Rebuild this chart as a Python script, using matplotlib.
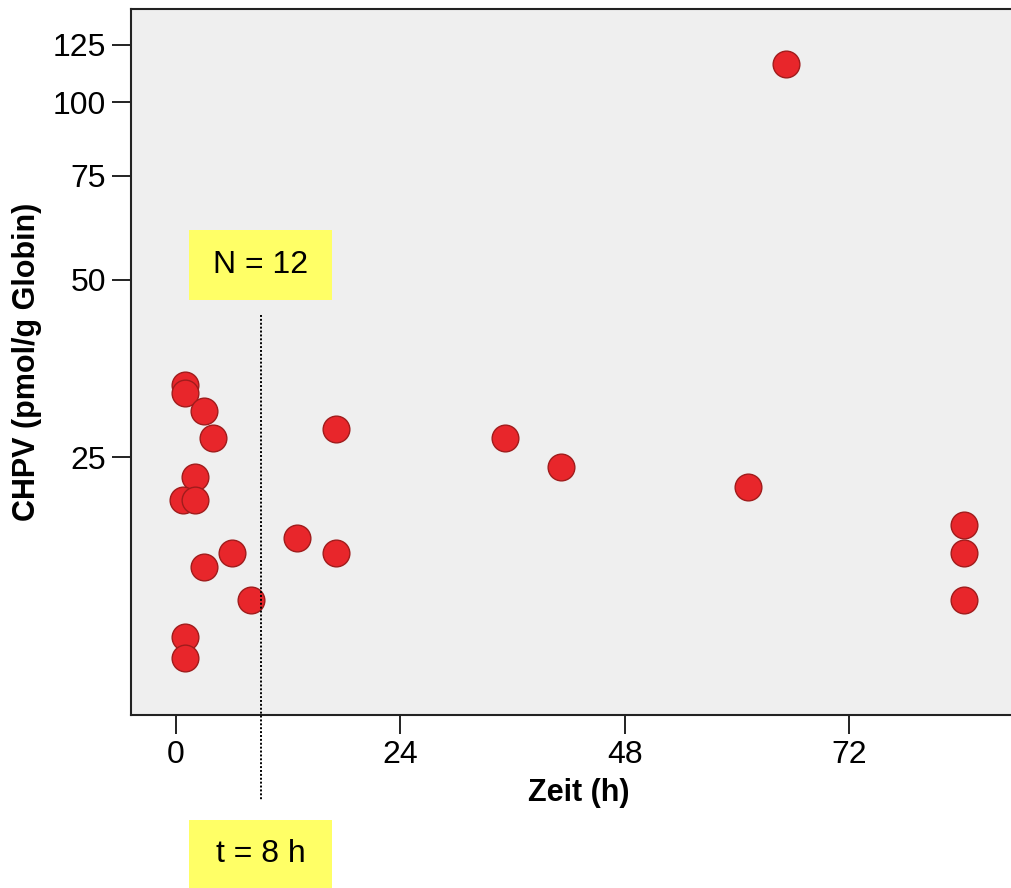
import matplotlib
matplotlib.use("Agg")
import matplotlib.pyplot as plt
import matplotlib.transforms as mtransforms
from matplotlib.patches import Rectangle

# data (time in h, CHPV in pmol/g globin)
zeit = [1.0, 1.0, 3.0, 4.0, 2.0, 0.8, 2.0, 6.0, 3.0, 8.0, 1.0, 1.0,
        17.1, 13.0, 17.1, 35.2, 41.2, 61.2, 65.2, 84.3, 84.3, 84.3]
chpv = [33.1, 32.1, 29.9, 26.9, 23.1, 21.1, 21.1, 17.2, 16.3, 14.3, 12.4, 11.4,
        27.9, 18.2, 17.2, 26.9, 24.0, 22.2, 116.0, 19.2, 17.2, 14.3]
y_ticks = [25, 50, 75, 100, 125]
x_ticks = [0, 24, 48, 72]
cutoff_h = 9.05
label_n = "N = 12"
label_t = "t = 8 h"

plt.rcParams['font.family'] = ['Liberation Sans', 'DejaVu Sans']

W, H = 1012, 888
fig = plt.figure(figsize=(W / 100, H / 100), dpi=100)
ax = fig.add_axes([131 / W, (H - 715) / H, (1027 - 131) / W, (715 - 9) / H])
ax.set_facecolor("#efefef")

ax.scatter(zeit, chpv, s=370, color="#e8262b", edgecolors="#a01c1c",
           linewidths=1.0, zorder=3)

ax.set_yscale("log")
ax.set_ylim(9.13, 143.8)
ax.set_xlim(-4.8, 91.0)
ax.minorticks_off()
ax.set_yticks(y_ticks)
ax.set_yticklabels([str(v) for v in y_ticks])
ax.set_xticks(x_ticks)
ax.set_xticklabels([str(v) for v in x_ticks])

for side in ["left", "bottom", "top", "right"]:
    ax.spines[side].set_color("#222222")
    ax.spines[side].set_linewidth(1.5)

ax.tick_params(axis="both", direction="out", length=14, width=1.4,
               color="#222222", labelsize=23, pad=4)

ax.set_xlabel("Zeit (h)", fontsize=22, fontweight="bold", labelpad=6)
ax.set_ylabel("CHPV (pmol/g Globin)", fontsize=22, fontweight="bold", labelpad=8)

# dotted cut-off line, running below the axis
trans = mtransforms.blended_transform_factory(ax.transData, ax.transAxes)
ax.plot([cutoff_h, cutoff_h], [0.567, -0.12], transform=trans, color="black",
        linestyle=(0, (1, 1)), linewidth=1.4, clip_on=False, zorder=4)

# yellow label boxes (figure pixel coords, top-origin)
def label_box(x0, x1, y0, y1, text):
    fig.patches.append(Rectangle((x0 / W, 1 - y1 / H), (x1 - x0) / W, (y1 - y0) / H,
                                 transform=fig.transFigure, facecolor="#ffff66",
                                 edgecolor="none", zorder=5))
    fig.text((x0 + x1) / 2 / W, 1 - (y0 + y1) / 2 / H, text, fontsize=23,
             ha="center", va="center", zorder=6)

label_box(189, 332, 230, 300, label_n)
label_box(189, 332, 820, 888, label_t)

fig.savefig("out.png", dpi=100, facecolor="white")
